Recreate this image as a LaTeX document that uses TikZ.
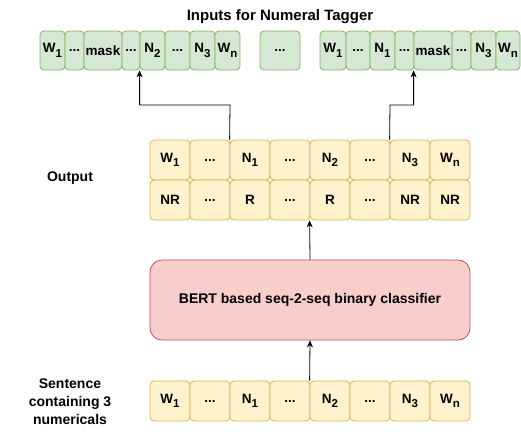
\documentclass[tikz,border=0pt]{standalone}
\usepackage{fontspec}
\setmainfont{Liberation Sans}
\usepackage{tikz}
\usetikzlibrary{arrows.meta, positioning}
\definecolor{TokGreen}{HTML}{D5E8D4}
\definecolor{TokGreenLine}{HTML}{82B366}
\definecolor{TokYellow}{HTML}{FFF2CC}
\definecolor{TokYellowLine}{HTML}{D6B656}
\definecolor{ModelRed}{HTML}{F8CECC}
\definecolor{ModelRedLine}{HTML}{B85450}
\newcommand{\sub}[1]{\raisebox{-0.32em}{\fontsize{11.5}{12}\selectfont #1}}
\tikzset{
  tokcell/.style={rectangle, rounded corners=4pt, draw=TokYellowLine, fill=TokYellow, line width=0.8pt, minimum width=40pt, minimum height=40pt, inner sep=0pt, font=\fontsize{13.5}{15}\selectfont\bfseries, align=center},
  maskcell/.style={rectangle, rounded corners=4pt, draw=TokGreenLine, fill=TokGreen, line width=0.8pt, minimum height=39pt, inner sep=0pt, font=\fontsize{13.5}{15}\selectfont\bfseries, align=center},
  modelbox/.style={rectangle, rounded corners=12pt, draw=ModelRedLine, fill=ModelRed, line width=0.8pt, minimum width=320pt, minimum height=80pt, font=\fontsize{14}{16}\selectfont\bfseries, align=center},
  sidelabel/.style={font=\fontsize{14}{18}\selectfont\bfseries, align=center},
  arrow/.style={-{Stealth[length=7pt, width=6pt]}, line width=0.8pt, black}
}

\begin{document}
\begin{tikzpicture}[x=1pt, y=-1pt]
  \useasboundingbox (0,0) rectangle (521,440);

  % Title
  \node[sidelabel, font=\fontsize{15}{18}\selectfont\bfseries] (title) at (280,17) {Inputs for Numeral Tagger};

  % Masked inputs, first numeral
  \node[maskcell, minimum width=25pt] (a1) at (52.5,50.5) {W\sub{1}};
  \node[maskcell, minimum width=19pt] (a2) at (74.5,50.5) {...};
  \node[maskcell, minimum width=38pt] (a3) at (103,50.5) {mask};
  \node[maskcell, minimum width=18pt] (a4) at (131,50.5) {...};
  \node[maskcell, minimum width=25pt] (a5) at (152.5,50.5) {N\sub{2}};
  \node[maskcell, minimum width=25pt] (a6) at (177.5,50.5) {...};
  \node[maskcell, minimum width=25pt] (a7) at (202.5,50.5) {N\sub{3}};
  \node[maskcell, minimum width=25pt] (a8) at (227.5,50.5) {W\sub{n}};

  \node[maskcell, minimum width=40pt] (gap) at (280,50.5) {...};

  % Masked inputs, second numeral
  \node[maskcell, minimum width=26pt] (b1) at (333,50.5) {W\sub{1}};
  \node[maskcell, minimum width=24pt] (b2) at (358,50.5) {...};
  \node[maskcell, minimum width=25pt] (b3) at (382.5,50.5) {N\sub{1}};
  \node[maskcell, minimum width=19pt] (b4) at (404.5,50.5) {...};
  \node[maskcell, minimum width=38pt] (b5) at (433,50.5) {mask};
  \node[maskcell, minimum width=19pt] (b6) at (461.5,50.5) {...};
  \node[maskcell, minimum width=25pt] (b7) at (483.5,50.5) {N\sub{3}};
  \node[maskcell, minimum width=24pt] (b8) at (508,50.5) {W\sub{n}};

  % Output rows
  \node[sidelabel] (outlbl) at (70,178) {Output};
  \node[tokcell] (o1) at (170,160) {W\sub{1}};
  \node[tokcell] (o2) at (210,160) {...};
  \node[tokcell] (o3) at (250,160) {N\sub{1}};
  \node[tokcell] (o4) at (290,160) {...};
  \node[tokcell] (o5) at (330,160) {N\sub{2}};
  \node[tokcell] (o6) at (370,160) {...};
  \node[tokcell] (o7) at (410,160) {N\sub{3}};
  \node[tokcell] (o8) at (450,160) {W\sub{n}};

  \node[tokcell] (r1) at (170,200) {NR};
  \node[tokcell] (r2) at (210,200) {...};
  \node[tokcell] (r3) at (250,200) {R};
  \node[tokcell] (r4) at (290,200) {...};
  \node[tokcell] (r5) at (330,200) {R};
  \node[tokcell] (r6) at (370,200) {...};
  \node[tokcell] (r7) at (410,200) {NR};
  \node[tokcell] (r8) at (450,200) {NR};

  % Classifier
  \node[modelbox] (bert) at (310,300) {BERT based seq-2-seq binary classifier};

  % Input sentence
  \node[sidelabel] (inlbl) at (70,402) {Sentence\\containing 3\\numericals};
  \node[tokcell] (s1) at (170,401) {W\sub{1}};
  \node[tokcell] (s2) at (210,401) {...};
  \node[tokcell] (s3) at (250,401) {N\sub{1}};
  \node[tokcell] (s4) at (290,401) {...};
  \node[tokcell] (s5) at (330,401) {N\sub{2}};
  \node[tokcell] (s6) at (370,401) {...};
  \node[tokcell] (s7) at (410,401) {N\sub{3}};
  \node[tokcell] (s8) at (450,401) {W\sub{n}};

  % Connectors
  \coordinate (elbowL) at (230,105);
  \coordinate (elbowR) at (390,105);
  \draw[arrow] (s5.north west) -- (bert.south);
  \draw[arrow] (bert.north) -- (r5.south west);
  \draw[arrow] (o3.north west) -- (elbowL) -| (a5.south west);
  \draw[arrow] (o7.north west) -- (elbowR) -| (b5.south west);
\end{tikzpicture}
\end{document}
